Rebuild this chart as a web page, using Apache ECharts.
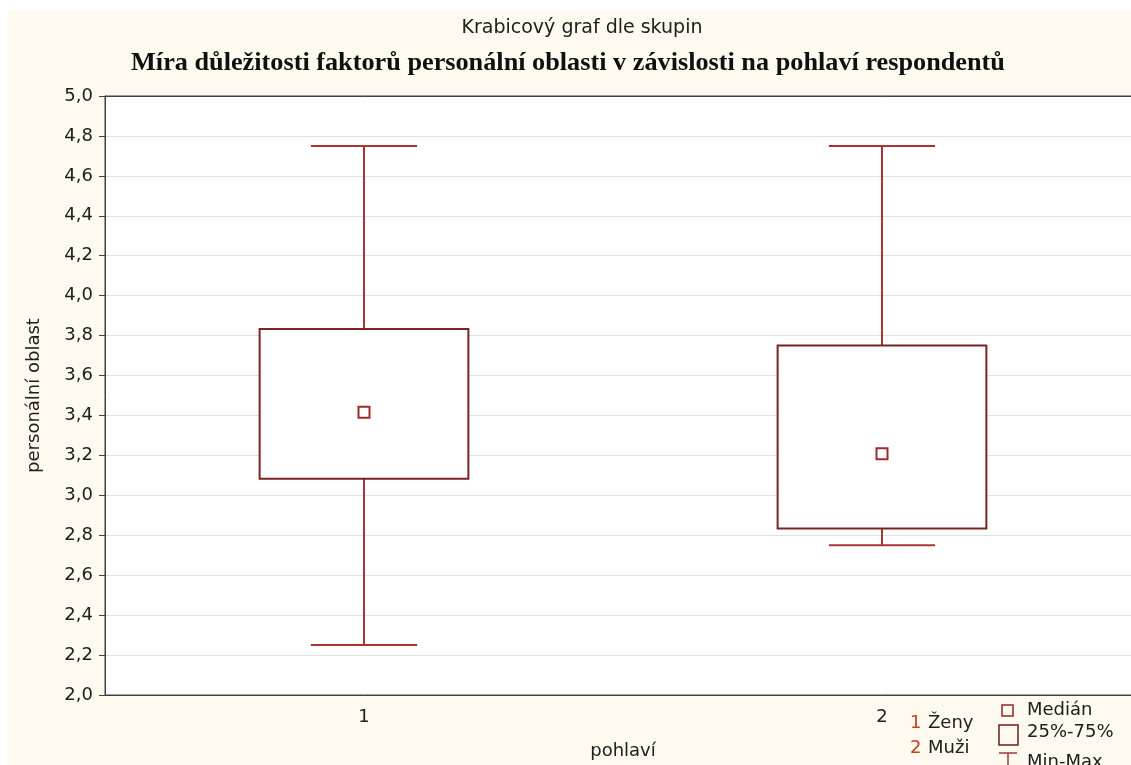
<!DOCTYPE html>
<html>
<head>
<meta charset="utf-8">
<script src="https://cdn.jsdelivr.net/npm/echarts@6/dist/echarts.min.js"></script>
<style>
  html, body { margin: 0; padding: 0; background: #ffffff; overflow: hidden; width: 1131px; height: 765px; }
  #chart { position: absolute; left: 8px; top: 10px; width: 1133px; height: 755px; background: #fffaef; }
</style>
</head>
<body>
<div id="chart"></div>
<script>
// Groups (pohlaví) and their box-plot statistics
const categories = ['1', '2'];
const minVals    = [2.25, 2.75];
const q1Vals     = [3.0833, 2.8333];
const medianVals = [3.4167, 3.2083];
const q3Vals     = [3.8333, 3.75];
const maxVals    = [4.75, 4.75];

const boxColor = '#772424';
const whiskerColor = '#a83434';
const medianColor = '#9e2c2c';

const seriesData = categories.map((c, i) => [i, minVals[i], q1Vals[i], medianVals[i], q3Vals[i], maxVals[i]]);

function renderBox(params, api) {
  const i = api.value(0);
  const band = api.size([1, 0])[0];
  const pMin = api.coord([i, api.value(1)]);
  const pQ1 = api.coord([i, api.value(2)]);
  const pMed = api.coord([i, api.value(3)]);
  const pQ3 = api.coord([i, api.value(4)]);
  const pMax = api.coord([i, api.value(5)]);
  const x = pMed[0];
  const boxW = band * 0.403;
  const capW = band * 0.205;
  const ms = 11;
  const wStyle = { stroke: whiskerColor, lineWidth: 2 };
  return {
    type: 'group',
    children: [
      { type: 'line', shape: { x1: x, y1: pMax[1], x2: x, y2: pQ3[1] }, style: wStyle },
      { type: 'line', shape: { x1: x, y1: pQ1[1], x2: x, y2: pMin[1] }, style: wStyle },
      { type: 'line', shape: { x1: x - capW / 2, y1: pMax[1], x2: x + capW / 2, y2: pMax[1] }, style: wStyle },
      { type: 'line', shape: { x1: x - capW / 2, y1: pMin[1], x2: x + capW / 2, y2: pMin[1] }, style: wStyle },
      { type: 'rect', shape: { x: x - boxW / 2, y: pQ3[1], width: boxW, height: pQ1[1] - pQ3[1] },
        style: { fill: '#ffffff', stroke: boxColor, lineWidth: 2 } },
      { type: 'rect', shape: { x: x - ms / 2, y: pMed[1] - ms / 2, width: ms, height: ms },
        style: { fill: '#ffffff', stroke: medianColor, lineWidth: 2 } }
    ]
  };
}

const chart = echarts.init(document.getElementById('chart'));
const sans = '"DejaVu Sans", Verdana, sans-serif';
const textColor = '#202020';
const legendText = { fill: textColor, font: '18px ' + sans, textVerticalAlign: 'middle' };
const keyNumber = { fill: '#c0441c', font: '18px ' + sans, textVerticalAlign: 'middle' };

chart.setOption({
  backgroundColor: '#fffaef',
  animation: false,
  grid: {
    left: 97, top: 86, bottom: 69, right: 0,
    show: true, backgroundColor: '#ffffff', borderColor: '#404040', borderWidth: 1
  },
  xAxis: [
    {
      type: 'category', data: categories, position: 'bottom',
      name: 'pohlaví', nameLocation: 'middle', nameGap: 47,
      nameTextStyle: { fontFamily: sans, fontSize: 18, color: textColor },
      axisLine: { lineStyle: { color: '#404040', width: 1 } },
      axisTick: { inside: true, length: 5, alignWithLabel: true, lineStyle: { color: '#404040' } },
      axisLabel: { fontFamily: sans, fontSize: 18, color: textColor, margin: 13 },
      splitLine: { show: false }
    },
    {
      type: 'category', data: categories, position: 'top',
      axisLine: { lineStyle: { color: '#404040', width: 1 } },
      axisTick: { inside: true, length: 5, alignWithLabel: true, lineStyle: { color: '#404040' } },
      axisLabel: { show: false },
      splitLine: { show: false }
    }
  ],
  yAxis: {
    type: 'value', min: 2, max: 5, interval: 0.2,
    name: 'personální oblast', nameLocation: 'middle', nameGap: 62, nameRotate: 90,
    nameTextStyle: { fontFamily: sans, fontSize: 18, color: textColor },
    axisLine: { show: true, lineStyle: { color: '#404040', width: 1 } },
    axisTick: { show: true, length: 6, lineStyle: { color: '#404040' } },
    axisLabel: { fontFamily: sans, fontSize: 18, color: textColor, margin: 12,
      formatter: v => v.toFixed(1).replace('.', ',') },
    splitLine: { lineStyle: { color: '#e0e0e0', width: 1 } }
  },
  series: [{
    type: 'custom',
    renderItem: renderBox,
    encode: { x: 0, y: [1, 2, 3, 4, 5] },
    data: seriesData,
    z: 5
  }],
  graphic: [
    // headings
    { type: 'text', x: 574, y: 18, style: { text: 'Krabicový graf dle skupin', fill: textColor,
        font: '19px ' + sans, textAlign: 'center', textVerticalAlign: 'middle' } },
    { type: 'text', x: 560, y: 54, scaleX: 1.05, originX: 0,
      style: { text: 'Míra důležitosti faktorů personální oblasti v závislosti na pohlaví respondentů',
        fill: '#101010', font: 'bold 25px "Liberation Serif", "Times New Roman", serif',
        textAlign: 'center', textVerticalAlign: 'middle' } },
    // group key
    { type: 'text', x: 902, y: 713, style: Object.assign({ text: '1' }, keyNumber) },
    { type: 'text', x: 920, y: 713, style: Object.assign({ text: 'Ženy' }, legendText) },
    { type: 'text', x: 902, y: 738, style: Object.assign({ text: '2' }, keyNumber) },
    { type: 'text', x: 920, y: 738, style: Object.assign({ text: 'Muži' }, legendText) },
    // symbol key
    { type: 'rect', shape: { x: 994, y: 695, width: 11, height: 11 }, style: { fill: 'none', stroke: '#8a2a2a', lineWidth: 1.5 } },
    { type: 'text', x: 1019, y: 700, style: Object.assign({ text: 'Medián' }, legendText) },
    { type: 'rect', shape: { x: 991, y: 715, width: 19, height: 20 }, style: { fill: 'none', stroke: '#6a2020', lineWidth: 1.5 } },
    { type: 'text', x: 1019, y: 722, style: Object.assign({ text: '25%-75%' }, legendText) },
    { type: 'line', shape: { x1: 991, y1: 743, x2: 1009, y2: 743 }, style: { stroke: '#a83434', lineWidth: 1.5 } },
    { type: 'line', shape: { x1: 1000, y1: 743, x2: 1000, y2: 756 }, style: { stroke: '#a83434', lineWidth: 1.5 } },
    { type: 'text', x: 1019, y: 752, style: Object.assign({ text: 'Min-Max' }, legendText) }
  ]
});
</script>
</body>
</html>
